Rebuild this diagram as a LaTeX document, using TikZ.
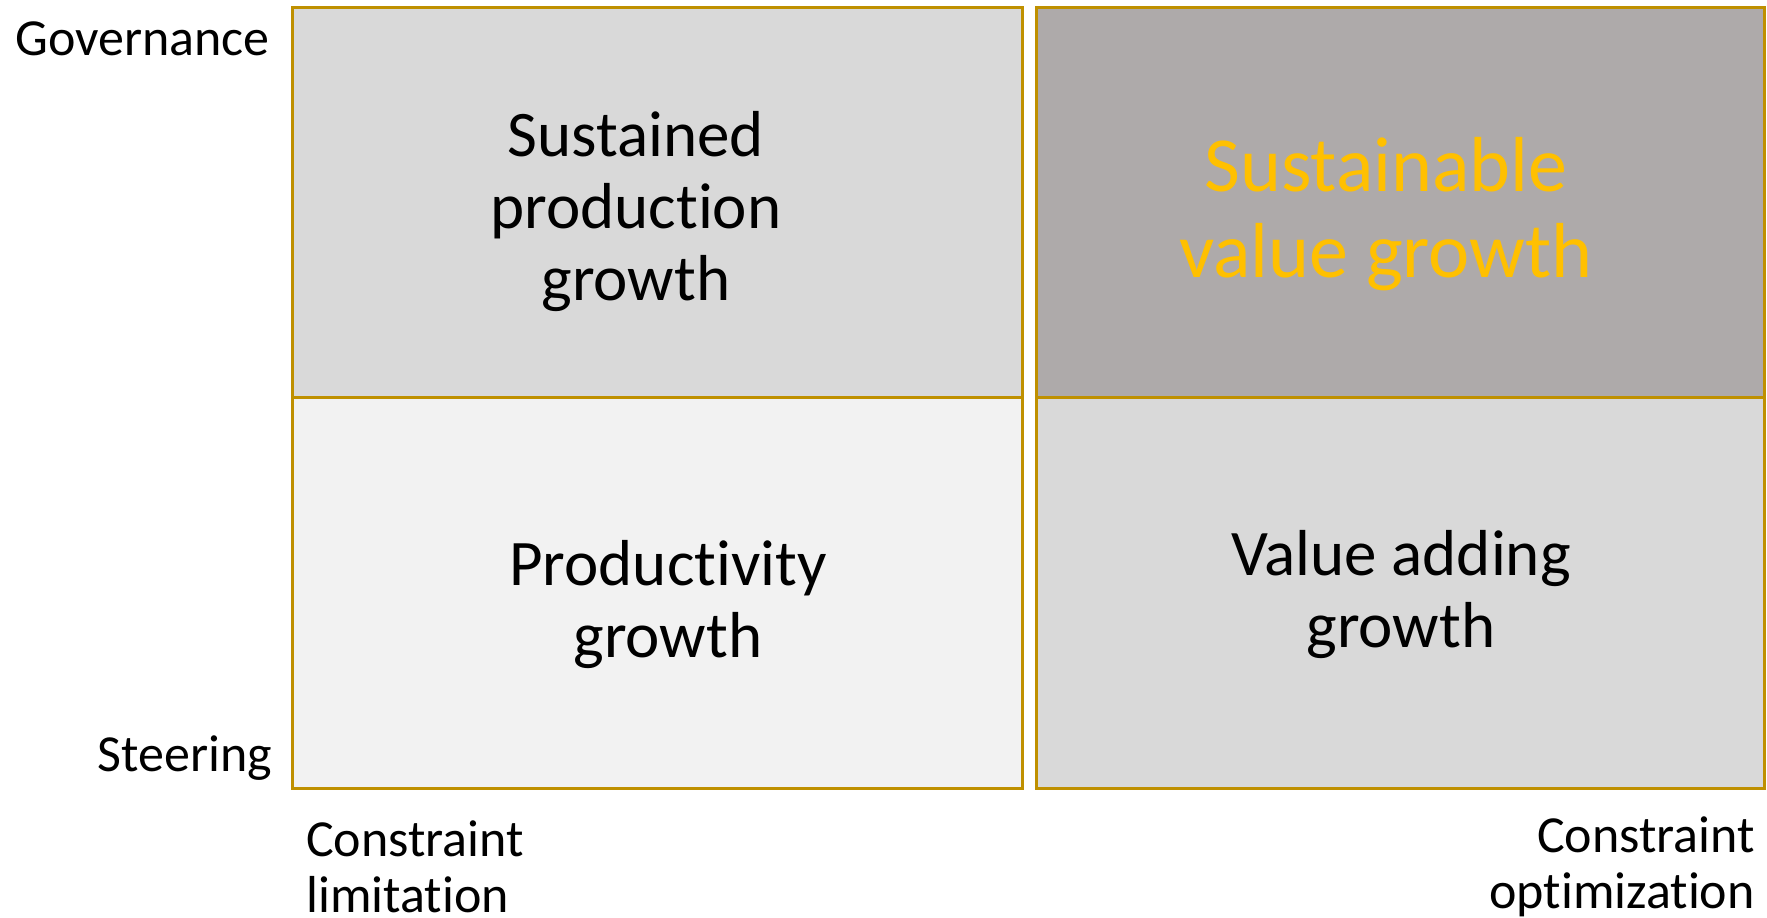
\documentclass[tikz,border=0pt]{standalone}
\usepackage{fontspec}
\setmainfont{Carlito}[Ligatures=NoCommon]
\definecolor{gold}{HTML}{BF9000}
\definecolor{amber}{HTML}{FFC000}
\definecolor{lgrey}{HTML}{D9D9D9}
\definecolor{vlgrey}{HTML}{F2F2F2}
\definecolor{dgrey}{HTML}{AEAAAA}
\tikzset{
  cell/.style={draw=gold, line width=3pt},
  big/.style={font=\fontsize{65}{72}\selectfont, align=center, inner sep=0pt, anchor=base},
  side/.style={font=\fontsize{52}{56}\selectfont, inner sep=0pt, anchor=base},
}
\begin{document}
\begin{tikzpicture}[x=1pt,y=-1pt]
\useasboundingbox (0,0) rectangle (1767,918);
\fill[white] (0,0) rectangle (1767,918);
% cells
\path[cell, fill=lgrey]  (292,7) rectangle (1022,397);
\path[cell, fill=vlgrey] (292,397) rectangle (1022,788);
\path[cell, fill=dgrey]  (1036,7) rectangle (1764,397);
\path[cell, fill=lgrey]  (1036,397) rectangle (1764,788);
\draw[gold, line width=3pt] (292,397) -- (1022,397);
% cell texts (anchor = baseline of last line)
\node[big] (spg) at (636,300) {Sustained\\production\\growth};
\node[big] (pg) at (668,657) {Productivity\\growth};
\node[big, font=\fontsize{78}{86}\selectfont, text=amber] (svg) at (1386,277) {Sustainable\\value growth};
\node[big] (vag) at (1401,647) {Value adding\\growth};
% axis labels
\node[side, anchor=base east] (gov) at (270,55) {Governance};
\node[side, anchor=base east] (ste) at (272,771) {Steering};
\node[side, anchor=base west, align=left] (cl) at (306,912) {Constraint\\limitation};
\node[side, anchor=base east, align=right] (co) at (1755,908) {Constraint\\optimization};
\end{tikzpicture}
\end{document}
